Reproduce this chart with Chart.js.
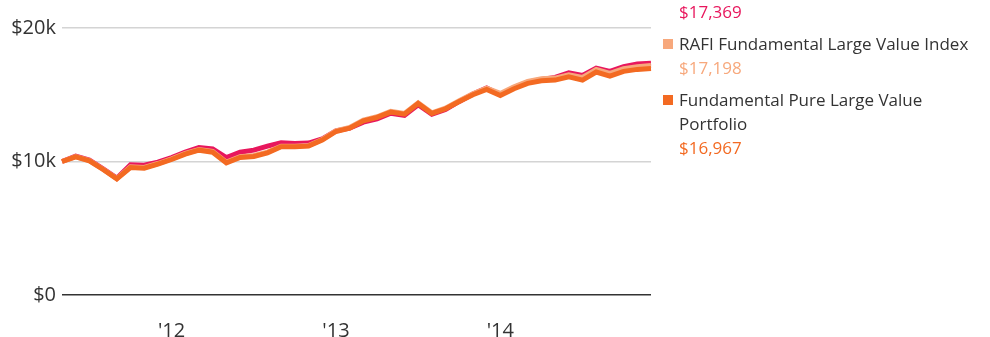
<!DOCTYPE html>
<html>
<head>
<meta charset="utf-8">
<script src="https://cdn.jsdelivr.net/npm/chart.js@4/dist/chart.umd.min.js"></script>
<style>
  html, body { margin: 0; padding: 0; background: #fff; overflow: hidden; }
  body { width: 990px; height: 337px; position: relative; font-family: "Open Sans", Lato, sans-serif; }
  #wrap { position: absolute; left: 0; top: 0; width: 667px; height: 337px; }
  #legend { position: absolute; left: 663px; top: 0; width: 318px; color: #333; font-size: 17px; line-height: 24px; }
  .item { position: relative; padding-left: 16px; margin-bottom: 8px; }
  .swatch { position: absolute; left: 0; top: 7px; width: 10px; height: 10px; }
  .value { display: block; }
</style>
</head>
<body>
<div id="wrap"><canvas id="growthChart"></canvas></div>
<div id="legend"></div>
<script>
// month-end values of a $10,000 investment, May 2011 - Dec 2014
const months = [
  '2011-05', '2011-06', '2011-07', '2011-08', '2011-09', '2011-10', '2011-11', '2011-12',
  '2012-01', '2012-02', '2012-03', '2012-04', '2012-05', '2012-06', '2012-07', '2012-08',
  '2012-09', '2012-10', '2012-11', '2012-12', '2013-01', '2013-02', '2013-03', '2013-04',
  '2013-05', '2013-06', '2013-07', '2013-08', '2013-09', '2013-10', '2013-11', '2013-12',
  '2014-01', '2014-02', '2014-03', '2014-04', '2014-05', '2014-06', '2014-07', '2014-08',
  '2014-09', '2014-10', '2014-11', '2014-12'
];

const benchmarkValues = [
  10000, 10400, 10100, 9450, 8750, 9750, 9720, 9950,
  10300, 10700, 11050, 10950, 10300, 10700, 10850, 11150,
  11400, 11350, 11380, 11700, 12300, 12500, 12950, 13200,
  13620, 13450, 14250, 13550, 13900, 14500, 15050, 15500,
  15000, 15550, 15950, 16150, 16300, 16650, 16450, 17000,
  16750, 17100, 17300, 17369
];

const rafiValues = [
  10000, 10370, 10070, 9420, 8720, 9600, 9550, 9850,
  10200, 10600, 10900, 10750, 9950, 10350, 10450, 10700,
  11150, 11150, 11200, 11650, 12300, 12550, 13100, 13350,
  13750, 13600, 14400, 13650, 14000, 14550, 15080, 15500,
  15100, 15600, 16000, 16200, 16250, 16500, 16300, 16900,
  16600, 16950, 17100, 17198
];

const portfolioValues = [
  10000, 10350, 10050, 9400, 8700, 9550, 9500, 9800,
  10150, 10550, 10850, 10700, 9900, 10300, 10380, 10650,
  11100, 11100, 11150, 11600, 12250, 12500, 13050, 13300,
  13700, 13550, 14350, 13600, 13950, 14500, 15000, 15400,
  14950, 15450, 15850, 16050, 16100, 16350, 16100, 16700,
  16400, 16750, 16900, 16967
];

const seriesNames = ['', 'RAFI Fundamental Large Value Index', 'Fundamental Pure Large Value Portfolio'];
const seriesColors = ['#e8175d', '#f7a87c', '#f36a22'];
const yTicks = [0, 10000, 20000];

// legend on the right: swatch, name, ending value
const legend = document.getElementById('legend');
const endValues = [benchmarkValues, rafiValues, portfolioValues].map(v => v[v.length - 1]);
seriesNames.forEach((name, i) => {
  const item = document.createElement('div');
  item.className = 'item';
  const money = '$' + endValues[i].toLocaleString('en-US');
  if (name) {
    item.innerHTML = '<span class="swatch" style="background:' + seriesColors[i] + '"></span>' +
      '<span>' + name + '</span>' +
      '<span class="value" style="color:' + seriesColors[i] + '">' + money + '</span>';
  } else {
    item.innerHTML = '<span class="value" style="color:' + seriesColors[i] + '">' + money + '</span>';
  }
  legend.appendChild(item);
});

const line = (data, color, order) => ({
  data, borderColor: color, borderWidth: 5, pointRadius: 0, tension: 0, fill: false, order, clip: false
});

new Chart(document.getElementById('growthChart'), {
  type: 'line',
  data: {
    labels: months,
    datasets: [
      line(benchmarkValues, seriesColors[0], 3),
      line(rafiValues, seriesColors[1], 2),
      line(portfolioValues, seriesColors[2], 1)
    ]
  },
  options: {
    responsive: true,
    maintainAspectRatio: false,
    animation: false,
    layout: { padding: { top: 28, right: 5, left: 0, bottom: 0 } },
    plugins: { legend: { display: false }, tooltip: { enabled: false } },
    scales: {
      x: {
        offset: false,
        grid: { display: false },
        border: { display: false },
        afterFit: (scale) => { scale.height = 42; },
        ticks: {
          autoSkip: false, maxRotation: 0, padding: 16, color: '#333',
          font: { family: 'Open Sans', size: 20 },
          callback: (value) => months[value].endsWith('-01') ? "'" + months[value].slice(2, 4) : ''
        }
      },
      y: {
        min: 0, max: 20000,
        afterFit: (scale) => { scale.width = 62; },
        afterBuildTicks: (scale) => { scale.ticks = yTicks.map(v => ({ value: v })); },
        border: { display: false },
        grid: {
          drawTicks: false,
          color: (ctx) => ctx.tick.value === 0 ? '#333' : '#d4d4d4',
          lineWidth: 1.5
        },
        ticks: {
          padding: 6, color: '#333',
          font: { family: 'Open Sans', size: 20 },
          callback: (v) => v === 0 ? '$0' : '$' + (v / 1000) + 'k'
        }
      }
    }
  }
});
</script>
</body>
</html>
